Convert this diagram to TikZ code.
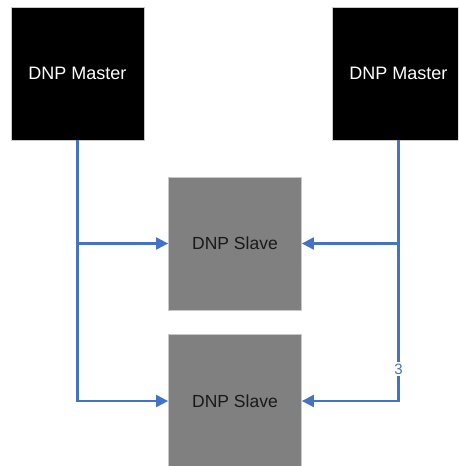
\documentclass[tikz,border=0pt]{standalone}
\usepackage{fontspec}
\setmainfont{Liberation Sans}
\usetikzlibrary{arrows.meta}
\definecolor{lnblue}{HTML}{4472C4}
\definecolor{boxgrey}{HTML}{808080}
\definecolor{edgegrey}{HTML}{C8C8C8}
\begin{document}
\begin{tikzpicture}[x=1pt,y=-1pt,
  master/.style={draw=edgegrey, line width=0.8pt, fill=black, text=white,
    minimum width=133pt, minimum height=133pt, inner sep=0pt,
    font=\fontsize{18}{20}\selectfont},
  slave/.style={draw=edgegrey, line width=0.8pt, fill=boxgrey, text=black!90,
    minimum width=133pt, minimum height=133pt, inner sep=0pt,
    font=\fontsize{17.5}{20}\selectfont},
  conn/.style={draw=lnblue, line width=2.2pt, -{Triangle[length=12pt,width=12pt]}},
  lbl/.style={fill=white, text=lnblue, inner sep=1.5pt, font=\fontsize{15}{16}\selectfont}
]
\useasboundingbox (0,0) rectangle (458,466);
\clip (0,0) rectangle (458,466);
\node[master] (m1) at (77.5,73.5) {DNP Master};
\node[master] (m2) at (398.5,73.5) {DNP Master};
\node[slave] (s1) at (235,243.5) {DNP Slave};
\node[slave] (s2) at (235,401) {DNP Slave};
\coordinate (jl) at (m1.south |- s1.west);
\coordinate (jr) at (m2.south |- s1.east);
\draw[conn] (m1.south) |- (s2.west);
\draw[conn] (jl) -- (s1.west);
\draw[conn] (m2.south) |- (s1.east);
\draw[conn] (jr) |- (s2.east);
\node[lbl] (l3) at (398.5,369) {3};
\end{tikzpicture}
\end{document}
